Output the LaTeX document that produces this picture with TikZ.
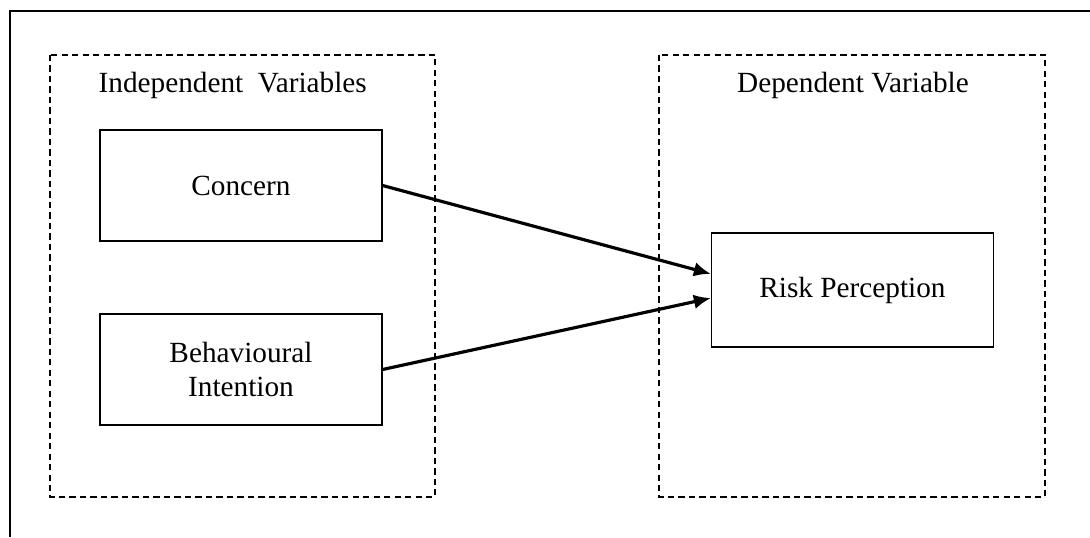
\documentclass[tikz,border=0pt]{standalone}
\usepackage{fontspec}
\setmainfont{Liberation Serif}
\usetikzlibrary{arrows.meta}

\tikzset{
  varbox/.style={draw,line width=0.5pt,minimum width=115.6pt,minimum height=45.5pt,align=center,inner sep=2pt},
  groupbox/.style={draw,line width=0.7pt,dash pattern=on 2.6pt off 1.7pt},
  link/.style={line width=1.3pt,-{Latex[length=7pt,width=6pt]}}
}

\begin{document}
\begin{tikzpicture}[x=0.41pt,y=-0.41pt,font=\fontsize{12}{14}\selectfont]
  \useasboundingbox (0,0) rectangle (1090,537);
  % frame
  \draw[line width=0.6pt] (10,537) -- (10,11) -- (1090,11);
  % groups
  \draw[groupbox] (50,55) rectangle (435,497);
  \draw[groupbox] (659,55) rectangle (1045,497);
  \node[anchor=west] (indep) at (90,85) {Independent\ \ Variables};
  \node (dep) at (853,85) {Dependent Variable};
  % variables
  \node[varbox] (concern) at (241,185.5) {Concern};
  \node[varbox] (intent) at (241,369.5) {Behavioural\\Intention};
  \node[varbox,minimum height=46.7pt] (risk) at (852.5,290) {Risk Perception};
  % links
  \draw[link] (concern.east) -- ([yshift=6.6pt]risk.west);
  \draw[link] (intent.east) -- ([yshift=-3.3pt]risk.west);
\end{tikzpicture}
\end{document}
